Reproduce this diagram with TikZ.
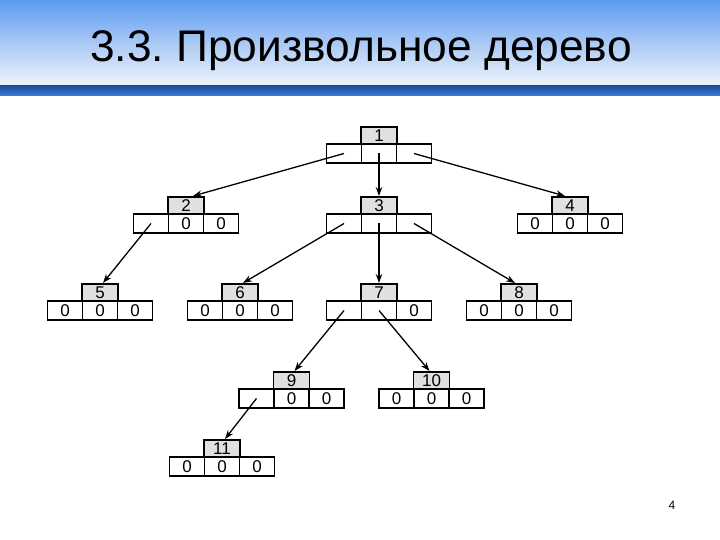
\documentclass[tikz,border=0pt]{standalone}
\usepackage{fontspec}
\setmainfont{Liberation Sans}
\usetikzlibrary{arrows.meta}
\definecolor{hdrtop}{HTML}{5C9BF2}
\definecolor{hdrmid}{HTML}{A9C8F4}
\definecolor{hdrbot}{HTML}{EEF3FB}
\definecolor{bardark}{HTML}{1E4F9E}
\definecolor{barlight}{HTML}{3C7ED6}
\definecolor{boxgray}{HTML}{E0E0E0}
\frenchspacing
\newcommand\treenode[7]{%
  \node[topbox] (#1) at (#2,#3) {#4};
  \node[cell, anchor=north] (#1b) at (#1.south) {#6};
  \node[cell, anchor=east] (#1a) at (#1b.west) {#5};
  \node[cell, anchor=west] (#1c) at (#1b.east) {#7};
}
\begin{document}
\begin{tikzpicture}[x=1pt,y=-1pt,
  topbox/.style={draw, line width=1.3pt, fill=boxgray, minimum width=36pt, minimum height=17pt, inner sep=0pt, outer sep=0pt, anchor=north, font=\fontsize{17}{17}\selectfont},
  cell/.style={draw, line width=1.3pt, fill=white, minimum width=35pt, minimum height=19pt, inner sep=0pt, outer sep=0pt, font=\fontsize{17}{17}\selectfont},
  arr/.style={line width=1.3pt, -{Stealth[length=9pt,width=6.5pt]}},
  title/.style={font=\fontsize{44.3}{44.3}\selectfont, anchor=base},
  pagenum/.style={font=\fontsize{12}{12}\selectfont, anchor=base}]
\useasboundingbox (0,0) rectangle (720,540);
\fill[white] (0,0) rectangle (720,540);
\shade[top color=hdrtop, bottom color=hdrbot, middle color=hdrmid] (0,0) rectangle (720,85);
\shade[top color=bardark, bottom color=barlight] (0,86) rectangle (720,96);
\node[title] (ttl) at (361,62) {3.3. Произвольное дерево};
\node[pagenum] (pg) at (672,509) {4};

\treenode{n1}{379}{127}{1}{}{}{}
\treenode{n2}{186}{197}{2}{}{0}{0}
\treenode{n3}{379}{197}{3}{}{}{}
\treenode{n4}{570}{197}{4}{0}{0}{0}
\treenode{n5}{100}{284}{5}{0}{0}{0}
\treenode{n6}{240}{284}{6}{0}{0}{0}
\treenode{n7}{379}{284}{7}{}{}{0}
\treenode{n8}{519}{284}{8}{0}{0}{0}
\treenode{n9}{291.5}{372}{9}{}{0}{0}
\treenode{n10}{431.5}{372}{10}{0}{0}{0}
\treenode{n11}{222}{440}{11}{0}{0}{0}

\draw[arr] (n1a.center) -- ([xshift=7pt,yshift=1pt]n2.north);
\draw[arr] (n1b.center) -- ([yshift=1pt]n3.north);
\draw[arr] (n1c.center) -- ([xshift=-5pt,yshift=1pt]n4.north);
\draw[arr] (n2a.center) -- ([xshift=3pt,yshift=1pt]n5.north);
\draw[arr] (n3a.center) -- ([xshift=3pt,yshift=1pt]n6.north);
\draw[arr] (n3b.center) -- ([yshift=1pt]n7.north);
\draw[arr] (n3c.center) -- ([xshift=-4pt,yshift=1pt]n8.north);
\draw[arr] (n7a.center) -- ([xshift=3pt,yshift=1pt]n9.north);
\draw[arr] (n7b.center) -- ([xshift=-2pt,yshift=1pt]n10.north);
\draw[arr] (n9a.center) -- ([xshift=3pt,yshift=1pt]n11.north);
\end{tikzpicture}
\end{document}
